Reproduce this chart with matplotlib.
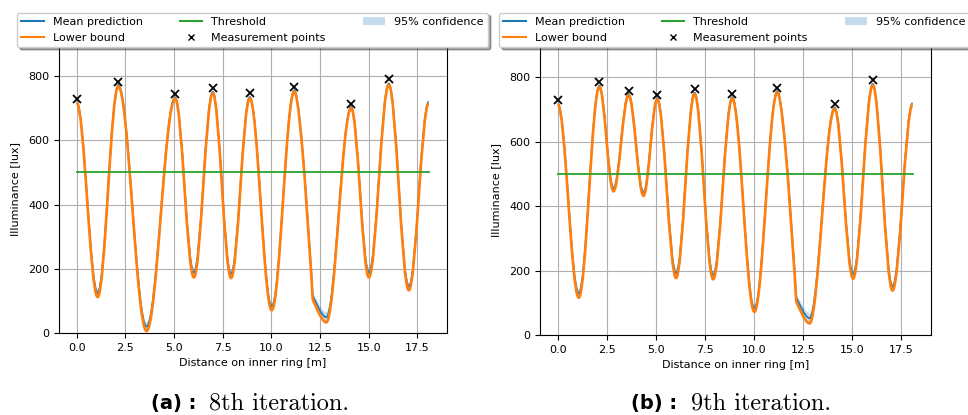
import matplotlib
matplotlib.use('Agg')
import matplotlib.pyplot as plt
from matplotlib.path import Path
from matplotlib.patches import PathPatch, Patch
from matplotlib.lines import Line2D

# (a) 8th iteration: knots of the mean prediction (extrema + one shoulder), half width of the 95% band
xA = [0.0, 1.08, 2.14, 3.59, 5.06, 6.02, 6.99, 7.93, 8.89, 10.02, 11.18, 12.12, 12.82, 14.10, 15.01, 16.03, 17.06, 18.08]
yA = [720, 125, 772, 20, 734, 188, 751, 184, 735, 82, 756, 118, 49, 704, 188, 777, 145, 720]
hwA = [3, 13, 4, 14, 4, 15, 4, 13, 4, 11, 4, 12, 16, 4, 15, 4, 12, 5]
measXA = [0.0, 2.14, 5.06, 6.99, 8.89, 11.18, 14.10, 16.03]
measYA = [728, 782, 743, 762, 746, 767, 714, 790]

# (b) 9th iteration
xB = [0.0, 1.07, 2.12, 2.84, 3.61, 4.37, 5.07, 6.03, 6.97, 7.92, 8.89, 10.02, 11.19, 12.15, 12.83, 14.11, 15.05, 16.05, 17.06, 18.08]
yB = [719, 129, 774, 455, 748, 442, 735, 192, 752, 186, 738, 83, 757, 118, 52, 706, 189, 779, 150, 719]
hwB = [3, 13, 4, 9, 4, 10, 4, 15, 4, 13, 4, 11, 4, 13, 16, 4, 14, 4, 12, 5]
measXB = [0.0, 2.12, 3.61, 5.07, 6.97, 8.89, 11.19, 14.11, 16.05]
measYB = [730, 784, 757, 746, 763, 747, 767, 716, 791]

threshold = 500
distRange = [0.0, 18.1]
xTicks = [0.0, 2.5, 5.0, 7.5, 10.0, 12.5, 15.0, 17.5]
yTicks = [0, 200, 400, 600, 800]
captions = [('(a) :', '8th iteration.'), ('(b) :', '9th iteration.')]


def isExtremum(ys):
    ext = [True]
    for i in range(1, len(ys) - 1):
        ext.append((ys[i] - ys[i-1]) * (ys[i+1] - ys[i]) < 0)
    ext.append(True)
    return ext


def bezierVerts(xs, ys, ext, f=0.36):
    # smooth cubic curve through the knots, flat at the extrema
    verts = [(xs[0], ys[0])]
    codes = [Path.MOVETO]
    for i in range(len(xs) - 1):
        dx = xs[i+1] - xs[i]
        c1 = (xs[i] + dx*f, ys[i]) if ext[i] else (xs[i], ys[i])
        c2 = (xs[i+1] - dx*f, ys[i+1]) if ext[i+1] else (xs[i+1], ys[i+1])
        verts += [c1, c2, (xs[i+1], ys[i+1])]
        codes += [Path.CURVE4]*3
    return verts, codes


def drawPanel(ax, xs, ys, hw, mx, my):
    ext = isExtremum(ys)
    up = [y + h for y, h in zip(ys, hw)]
    lo = [y - h for y, h in zip(ys, hw)]
    vu, cu = bezierVerts(xs, up, ext)
    vl, cl = bezierVerts(xs[::-1], lo[::-1], ext[::-1])
    cl[0] = Path.LINETO
    band = Path(vu + vl + [vu[0]], cu + cl + [Path.CLOSEPOLY])
    ax.add_patch(PathPatch(band, facecolor='tab:blue', alpha=0.25, edgecolor='none', zorder=2))
    vm, cm = bezierVerts(xs, ys, ext)
    ax.add_patch(PathPatch(Path(vm, cm), fill=False, edgecolor='tab:blue', lw=1.2, zorder=2.1))
    vl2, cl2 = bezierVerts(xs, lo, ext)
    ax.add_patch(PathPatch(Path(vl2, cl2), fill=False, edgecolor='tab:orange', lw=1.9, zorder=2.2))
    ax.plot(distRange, [threshold, threshold], color='tab:green', lw=1.3, zorder=2.3)
    ax.plot(mx, my, 'x', color='black', ms=5.5, mew=1.3, zorder=3)
    ax.set_xlim(-0.905, 19.005)
    ax.set_ylim(0, 900)
    ax.set_xticks(xTicks)
    ax.set_yticks(yTicks)
    ax.tick_params(labelsize=8)
    ax.grid(True)
    ax.set_xlabel('Distance on inner ring [m]', fontsize=8)
    ax.set_ylabel('Illuminance [lux]', fontsize=8, labelpad=6)


fig = plt.figure(figsize=(9.68, 4.15), dpi=100)
ax1 = fig.add_axes([59/968, 82/415, 387.7/968, 289/415])
ax2 = fig.add_axes([540/968, 80/415, 390.7/968, 290/415])
drawPanel(ax1, xA, yA, hwA, measXA, measYA)
drawPanel(ax2, xB, yB, hwB, measXB, measYB)

handles = [Line2D([0], [0], color='tab:blue'), Line2D([0], [0], color='tab:orange'),
           Line2D([0], [0], color='tab:green'),
           Line2D([0], [0], ls='none', marker='x', color='black', markersize=4.5),
           Patch(facecolor='tab:blue', alpha=0.25)]
labels = ['Mean prediction', 'Lower bound', 'Threshold', 'Measurement points', '95% confidence']
for left in [17, 499]:
    fig.legend(handles, labels, loc='lower left', bbox_to_anchor=(left/968, 368/415, 471/968, 42/415),
               mode='expand', ncol=3, fontsize=8, shadow=True, borderaxespad=0)

# captions: bold tag followed by roman text
capY = 1 - 403/415
for tagRight, textLeft, (tag, text) in zip([196, 677], [209, 691], captions):
    fig.text(tagRight/968, capY, tag, fontsize=14, fontweight='bold', ha='right', va='center')
    fig.text(textLeft/968, capY, text, family='cmr10', fontsize=17.5, ha='left', va='center')

plt.savefig('out.png', dpi=100)
